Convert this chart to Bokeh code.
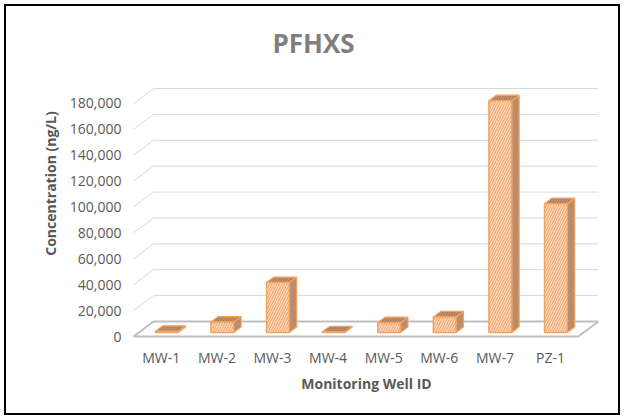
from bokeh.plotting import figure
from bokeh.models import FixedTicker, NumeralTickFormatter, Range1d, Label
from bokeh.embed import file_html
from bokeh.resources import INLINE

# ---- data ----
categories = ["MW-1", "MW-2", "MW-3", "MW-4", "MW-5", "MW-6", "MW-7", "PZ-1"]
values = [800, 8000, 38500, 400, 7500, 12000, 179000, 99500]
y_ticks = [0, 20000, 40000, 60000, 80000, 100000, 120000, 140000, 160000, 180000]
title_text = "PFHXS"

# ---- 3D geometry (data units) ----
DX, DY = 0.36, 11590          # floor / wall depth offset
FRONT = 0.27                  # bar front position in depth
BDEPTH = 0.37                 # bar depth fraction
BW = 0.41                     # bar width (category units)
n = len(categories)

p = figure(width=616, height=411, output_backend="svg", toolbar_location=None,
           x_range=Range1d(-0.054, 8.435), y_range=Range1d(-3090, 239484),
           min_border_left=124, min_border_right=20, min_border_top=20,
           min_border_bottom=77)
p.title.visible = False
p.styles = {"border": "2px solid black", "margin": "4px"}
p.outline_line_color = None
p.grid.visible = False

FONT = "Open Sans"
GRAY = "#595959"

# title (centred over the whole chart area)
p.add_layout(Label(x=3.237, y=226400, text=title_text, text_align="center",
                   text_baseline="middle", text_font=FONT, text_font_size="26px",
                   text_font_style="bold", text_color="#7f7f7f"))

# back wall gridlines & left diagonals
for t in y_ticks[1:]:
    p.segment(x0=[DX], y0=[t + DY], x1=[n + DX], y1=[t + DY], line_color="#d9d9d9", line_width=1)
    p.segment(x0=[0], y0=[t], x1=[DX], y1=[t + DY], line_color="#d9d9d9", line_width=1)

# floor
p.patch(x=[0, n, n + DX, DX], y=[0, 0, DY, DY], fill_color="white",
        line_color="#bfbfbf", line_width=2)

# bars
fx, fy, tx, ty, sx, sy = [], [], [], [], [], []
bx, by = BDEPTH * DX, BDEPTH * DY
for i, v in enumerate(values):
    x0 = i + 0.5 - BW / 2 + FRONT * DX
    x1 = x0 + BW
    y0 = FRONT * DY
    y1 = v + y0
    fx.append([x0, x1, x1, x0]); fy.append([y0, y0, y1, y1])
    tx.append([x0, x1, x1 + bx, x0 + bx]); ty.append([y1, y1, y1 + by, y1 + by])
    sx.append([x1, x1 + bx, x1 + bx, x1]); sy.append([y0, y0 + by, y1 + by, y1])

ORANGE = "#f4a460"
p.patches(xs=sx, ys=sy, fill_color="#a38b78", line_color=ORANGE, line_width=1.2,
          hatch_pattern="right_diagonal_line", hatch_color="#d9925a", hatch_scale=5, hatch_weight=1)
p.patches(xs=tx, ys=ty, fill_color="#c98e63", line_color=ORANGE, line_width=1.2,
          hatch_pattern="right_diagonal_line", hatch_color="#a07c60", hatch_scale=5, hatch_weight=1)
p.patches(xs=fx, ys=fy, fill_color="#fcdcc4", line_color=ORANGE, line_width=1.5,
          hatch_pattern="right_diagonal_line", hatch_color="#f4a870", hatch_scale=5, hatch_weight=1.2)

# axes
p.yaxis.ticker = FixedTicker(ticks=y_ticks)
p.yaxis.formatter = NumeralTickFormatter(format="0,0")
p.xaxis.ticker = FixedTicker(ticks=[i + 0.5 for i in range(n)])
p.xaxis.major_label_overrides = {i + 0.5: c for i, c in enumerate(categories)}
for ax in (p.xaxis, p.yaxis):
    ax.axis_line_color = None
    ax.major_tick_line_color = None
    ax.minor_tick_line_color = None
    ax.major_tick_out = 0
    ax.major_tick_in = 0
    ax.major_label_text_font = FONT
    ax.major_label_text_font_size = "14px"
    ax.major_label_text_color = GRAY
    ax.axis_label_text_font = FONT
    ax.axis_label_text_font_size = "14px"
    ax.axis_label_text_font_style = "bold"
    ax.axis_label_text_color = GRAY
p.yaxis.axis_label = "Concentration (ng/L)"
p.xaxis.axis_label = "Monitoring Well ID"
p.yaxis.major_label_standoff = 9
p.yaxis.axis_label_standoff = 7
p.xaxis.major_label_standoff = 7
p.xaxis.axis_label_standoff = 4

open("out.html", "w").write(file_html(p, INLINE))
